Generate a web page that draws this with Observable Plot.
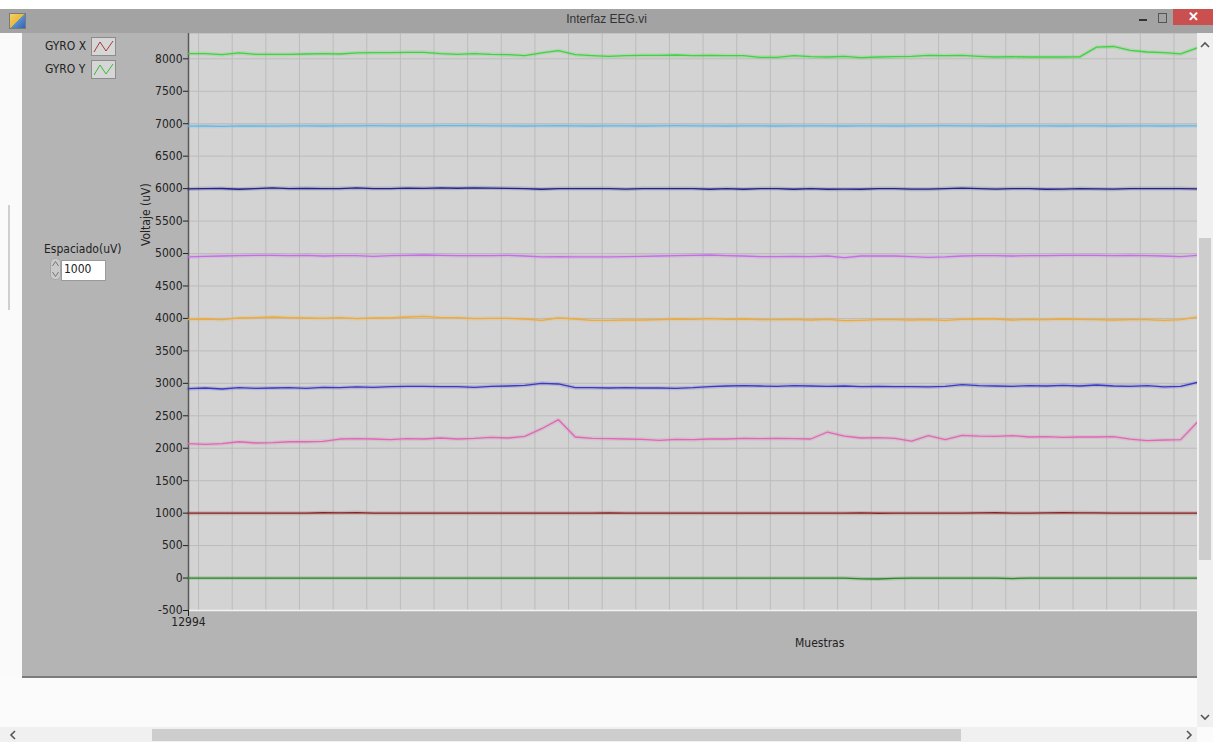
<!DOCTYPE html>
<html><head><meta charset="utf-8">
<script src="https://cdn.jsdelivr.net/npm/d3@7"></script>
<script src="https://cdn.jsdelivr.net/npm/@observablehq/plot@0.6"></script>
<style>
html,body{margin:0;padding:0;width:1213px;height:742px;overflow:hidden;background:#fbfbfb;
  font-family:"Liberation Sans Narrow","DejaVu Sans Condensed","Liberation Sans",sans-serif;color:#222;}
#win{position:relative;width:1213px;height:742px;}
.a{position:absolute;}
.lbl{font-size:12px;color:#222;white-space:nowrap;}
</style></head><body>
<div id="win">
  <div class="a" style="left:0;top:0;width:1213px;height:9px;background:#fff"></div>
  <div class="a" style="left:0;top:9px;width:1213px;height:24px;background:#a3a3a3"></div>
  <div class="a" style="left:9px;top:13px;width:15px;height:14px;background:linear-gradient(135deg,#f3d36b 0%,#e9b93a 50%,#5a8fd0 51%,#2f64b5 100%);border:1px solid #7a7a7a"></div>
  <div class="a lbl" style="left:0;top:12px;width:1213px;text-align:center;font-family:'Liberation Sans',sans-serif;font-size:12px;color:#333">Interfaz EEG.vi</div>
  <div class="a" style="left:1139px;top:19px;width:8px;height:2px;background:#333"></div>
  <div class="a" style="left:1158px;top:13px;width:7px;height:8px;border:1px solid #555"></div>
  <div class="a" style="left:1173px;top:9px;width:40px;height:16px;background:#c9504f;color:#fff;font:bold 13px 'Liberation Sans',sans-serif;text-align:center;line-height:15px">✕</div>

  <div class="a" style="left:0;top:33px;width:22px;height:645px;background:#fafafa"></div>
  <div class="a" style="left:8px;top:205px;width:2px;height:105px;background:#cfcfcf"></div>
  <div class="a" style="left:22px;top:33px;width:1175px;height:643px;background:#b4b4b4"></div>
  <div class="a" style="left:22px;top:676px;width:1175px;height:2px;background:#7b7b7b"></div>

  <!-- legend -->
  <div class="a lbl" style="left:45px;top:39px">GYRO X</div>
  <svg class="a" style="left:91px;top:37px" width="25" height="19"><rect x="0.5" y="0.5" width="24" height="18" fill="#d6d6d6" stroke="#8c8c8c"/><polyline points="3,15 9,5 15,14 22,4" fill="none" stroke="#a33c3c" stroke-width="1"/></svg>
  <div class="a lbl" style="left:45px;top:62px">GYRO Y</div>
  <svg class="a" style="left:91px;top:60px" width="25" height="19"><rect x="0.5" y="0.5" width="24" height="18" fill="#d6d6d6" stroke="#8c8c8c"/><polyline points="3,15 9,5 15,14 22,4" fill="none" stroke="#3cb83c" stroke-width="1"/></svg>

  <!-- spacing control -->
  <div class="a lbl" style="left:44px;top:242px">Espaciado(uV)</div>
  <svg class="a" style="left:50px;top:258px" width="11" height="22"><rect x="0.5" y="0.5" width="10" height="21" rx="4" fill="#cacaca" stroke="#a5a5a5"/><path d="M2.5,8 L5.5,3.5 L8.5,8" fill="none" stroke="#777"/><path d="M2.5,14 L5.5,18.5 L8.5,14" fill="none" stroke="#777"/></svg>
  <div class="a" style="left:61px;top:260px;width:43px;height:19px;background:#fff;border:1px solid #9a9a9a"></div>
  <div class="a lbl" style="left:64px;top:262px">1000</div>

  <div class="a lbl" style="left:116px;top:209px;width:60px;text-align:center;transform:rotate(-90deg);transform-origin:center">Voltaje (uV)</div>
  <div class="a lbl" style="left:795px;top:636px">Muestras</div>

  <div id="chart" class="a" style="left:130px;top:33px"></div>

  <!-- scrollbars -->
  <div class="a" style="left:1197px;top:33px;width:16px;height:694px;background:#f0f0f0"></div>
  <div class="a" style="left:1199px;top:238px;width:12px;height:322px;background:#cdcdcd"></div>
  <svg class="a" style="left:1199px;top:40px" width="12" height="10"><path d="M2,7 L6,3 L10,7" fill="none" stroke="#555" stroke-width="1.6"/></svg>
  <svg class="a" style="left:1199px;top:712px" width="12" height="10"><path d="M2,3 L6,7 L10,3" fill="none" stroke="#555" stroke-width="1.6"/></svg>
  <div class="a" style="left:0;top:727px;width:1197px;height:15px;background:#f0f0f0"></div>
  <div class="a" style="left:152px;top:729px;width:809px;height:12px;background:#cdcdcd"></div>
  <svg class="a" style="left:8px;top:729px" width="10" height="12"><path d="M7,2 L3,6 L7,10" fill="none" stroke="#555" stroke-width="1.6"/></svg>
  <svg class="a" style="left:1184px;top:729px" width="10" height="12"><path d="M3,2 L7,6 L3,10" fill="none" stroke="#555" stroke-width="1.6"/></svg>
</div>
<script>
// sample positions (Muestras)
const samples = d3.range(0, 61).map(i => 12994 + i * 10);
const xGrid = d3.range(13000, 13594, 20);
const yTicks = d3.range(-500, 8001, 500);

const chGreen = [8080,8080,8064,8090,8069,8069,8069,8074,8080,8074,8090,8095,8095,8100,8100,8080,8069,8080,8069,8064,8049,8090,8126,8064,8049,8039,8049,8054,8054,8059,8049,8054,8049,8049,8023,8023,8049,8033,8028,8039,8018,8028,8033,8039,8054,8049,8054,8039,8028,8033,8028,8028,8028,8030,8180,8190,8130,8105,8095,8075,8170];
const chLightBlue = [6962,6965,6960,6966,6965,6963,6966,6968,6965,6966,6968,6970,6968,6966,6968,6970,6972,6970,6968,6966,6965,6968,6970,6966,6965,6968,6966,6965,6968,6970,6968,6966,6965,6968,6966,6965,6966,6968,6966,6965,6968,6966,6965,6966,6968,6970,6968,6966,6965,6966,6968,6966,6965,6968,6966,6965,6966,6968,6965,6966,6968];
const chNavy = [5995,6000,6002,5990,6000,6010,6000,6005,6000,6000,6010,6000,6000,6008,6005,6010,6006,6012,6008,6005,6000,5990,6000,6000,6000,6000,5992,6000,6000,6000,6000,5990,6000,5990,6000,6000,5990,6000,5990,5992,5990,6000,6000,5992,5992,6000,6008,6000,5993,6000,6000,5990,5992,6000,5995,5992,6000,6000,6000,6000,5995];
const chViolet = [4947,4957,4962,4967,4972,4972,4967,4972,4962,4967,4967,4957,4967,4972,4977,4972,4967,4967,4967,4972,4962,4947,4952,4947,4947,4947,4952,4957,4962,4967,4972,4977,4967,4962,4952,4952,4957,4952,4962,4936,4962,4962,4962,4952,4942,4947,4962,4967,4967,4962,4967,4967,4972,4972,4972,4967,4972,4967,4962,4952,4972];
const chOrange = [3986,3991,3981,4007,4012,4022,4012,4007,4002,4012,3996,4007,4007,4022,4032,4012,4012,3996,4002,4002,3991,3971,4007,3991,3971,3971,3976,3976,3981,3991,3986,3996,3986,3991,3981,3981,3986,3976,3986,3966,3971,3981,3981,3976,3981,3971,3986,3991,3991,3976,3986,3981,3991,3986,3981,3976,3981,3981,3971,3981,4022];
const chBlue = [2918,2928,2913,2933,2923,2928,2933,2923,2938,2933,2944,2938,2949,2954,2954,2949,2949,2938,2954,2959,2969,3000,2990,2933,2933,2928,2933,2928,2928,2923,2933,2949,2959,2964,2959,2954,2964,2959,2954,2959,2949,2954,2949,2949,2944,2954,2979,2964,2959,2954,2964,2959,2969,2959,2974,2959,2954,2964,2944,2954,3015];
const chPink = [2070,2060,2070,2100,2081,2086,2100,2100,2106,2142,2147,2142,2132,2147,2142,2158,2142,2152,2168,2158,2183,2301,2440,2173,2152,2147,2142,2137,2122,2137,2132,2142,2142,2152,2147,2152,2147,2142,2250,2188,2158,2163,2152,2111,2194,2132,2199,2188,2183,2194,2173,2178,2168,2173,2173,2178,2142,2117,2127,2132,2404];
const gyroX = [1000,1000,1000,1000,1000,1000,1000,1000,1006,1004,1008,1000,1000,1000,1000,1000,1000,1000,1000,1000,1000,1000,1000,1000,1000,1005,1000,1000,1000,1000,1000,1000,1000,1000,1000,1000,1000,1000,1000,1000,1004,998,1000,1000,1000,1000,1000,1003,1006,1000,1000,1004,1006,1005,1003,1000,1000,1000,1000,1000,1000];
const gyroY = [0,0,0,0,0,0,0,0,0,0,0,0,0,0,0,0,0,0,0,0,0,0,0,0,0,0,0,0,0,0,0,0,0,0,0,0,0,0,0,0,-12,-15,-6,0,0,0,0,0,0,-8,0,0,0,0,0,0,0,0,0,0,0];

const names = ["ch8","ch7","ch6","ch5","ch4","ch3","ch2","GYRO X","GYRO Y"];
const colors = ["#3fd43f","#63b8e6","#22228a","#c46ee6","#eeaa3a","#3a3ac4","#e067b4","#8a2222","#2a8a2a"];
const seriesValues = [chGreen, chLightBlue, chNavy, chViolet, chOrange, chBlue, chPink, gyroX, gyroY];

const data = seriesValues.flatMap((vals, k) => vals.map((v, i) => ({x: samples[i], v, name: names[k]})));

const chart = Plot.plot({
  width: 1067, height: 607,
  marginLeft: 58, marginRight: 0, marginTop: 0, marginBottom: 30,
  x: {domain: [12994, 13594], axis: null},
  y: {domain: [-500, 8390], axis: null},
  color: {domain: names, range: colors},
  style: {background: "transparent", fontFamily: "'Liberation Sans Narrow','DejaVu Sans Condensed',sans-serif", fontSize: "12px", color: "#222"},
  marks: [
    Plot.frame({fill: "#d3d3d3", stroke: null}),
    Plot.gridX(xGrid, {stroke: "#bcbcbc", strokeOpacity: 1}),
    Plot.gridY(yTicks, {stroke: "#bcbcbc", strokeOpacity: 1}),
    Plot.ruleY([-500], {stroke: "#f2f2f2", strokeWidth: 1.5}),
    Plot.ruleX([12994], {stroke: "#5a5a5a", strokeWidth: 1.5}),
    Plot.axisY(yTicks, {tickSize: 5, tickPadding: 1, tickFormat: d => String(d), color: "#222", fontSize: 12, label: null}),
    Plot.axisX([12994], {tickSize: 6, tickPadding: 1, tickFormat: d => String(d), color: "#222", fontSize: 12, label: null}),
    Plot.lineY(data, {x: "x", y: "v", z: "name", stroke: "name", strokeWidth: 4, strokeOpacity: 0.18}),
    Plot.lineY(data, {x: "x", y: "v", z: "name", stroke: "name", strokeWidth: 1.3})
  ]
});
document.getElementById("chart").appendChild(chart);
</script>
</body></html>
